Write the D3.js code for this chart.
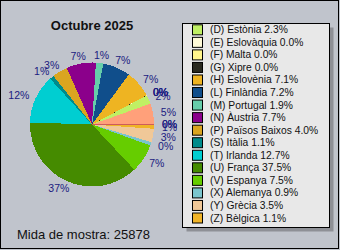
<!DOCTYPE html>
<html>
<head>
<meta charset="utf-8">
<script src="https://cdn.jsdelivr.net/npm/d3@7"></script>
<style>
  html, body { margin: 0; padding: 0; background: #c0c4cc; }
  svg { display: block; font-family: "Liberation Sans", Arial, sans-serif; }
</style>
</head>
<body>
<svg id="chart" width="340" height="250"></svg>
<script>
// Series codes, country names, coin counts and slice colours
const codes = ["A", "B", "C", "D", "E", "F", "G", "H", "L", "M", "N", "P", "S", "T", "U", "V", "X", "Y", "Z"];
const countries = ["Croàcia", "Lituània", "Letònia", "Estònia", "Eslovàquia", "Malta", "Xipre", "Eslovènia",
  "Finlàndia", "Portugal", "Àustria", "Països Baixos", "Itàlia", "Irlanda", "França", "Espanya",
  "Alemanya", "Grècia", "Bèlgica"];
const counts = [8, 5, 1401, 595, 3, 1, 5, 1837, 1863, 492, 1993, 1034, 285, 3287, 9704, 1941, 233, 906, 285];
const colors = ["#cd5c5c", "#ffd700", "#ffa07a", "#c0f064", "#fffbd8", "#fff58c", "#29291f", "#eeb422",
  "#104e8b", "#66cdaa", "#8b008b", "#daa520", "#008b8b", "#00ced1", "#458b00", "#66cd00",
  "#7ac5cd", "#f0c898", "#f0b428"];
const title = "Octubre 2025";
const sampleLabel = "Mida de mostra: ";
// the legend box has room for 16 rows, listed from (D) onward
const legendFirst = 3;

const total = d3.sum(counts);
const data = codes.map((c, i) => ({
  code: c, name: countries[i], count: counts[i], color: colors[i],
  pct: counts[i] / total * 100
}));

const svg = d3.select("#chart");
const W = 340, H = 250;

// background and outer frame
svg.append("rect").attr("width", W).attr("height", H).attr("fill", "#c0c4cc");
svg.append("rect").attr("x", 0.5).attr("y", 0.5).attr("width", 338).attr("height", 248)
  .attr("fill", "none").attr("stroke", "#000");

// title
const cx = 92, cy = 124.5, R = 62, labelR = 70;
svg.append("text").attr("x", cx).attr("y", 30).attr("text-anchor", "middle")
  .attr("font-size", 13).attr("font-weight", "bold").attr("fill", "#111").text(title);

// pie, running counter-clockwise from three o'clock
const pie = d3.pie().sort(null).value(d => d.count)
  .startAngle(Math.PI / 2).endAngle(Math.PI / 2 - 2 * Math.PI);
const arcs = pie(data);
const arc = d3.arc().innerRadius(0).outerRadius(R);

const g = svg.append("g").attr("transform", `translate(${cx},${cy})`);
g.selectAll("path").data(arcs).join("path")
  .attr("d", arc).attr("fill", d => d.data.color)
  .attr("shape-rendering", "crispEdges");

// percentage labels just outside the rim
const labels = g.selectAll("text.pl").data(arcs).join("text")
  .attr("class", "pl")
  .attr("font-size", 10.5).attr("fill", "#1a1a80")
  .attr("dominant-baseline", "central")
  .text(d => Math.floor(d.data.pct) + "%");
labels.each(function (d) {
  const a = (d.startAngle + d.endAngle) / 2;
  const px = labelR * Math.sin(a), py = -labelR * Math.cos(a);
  const w = this.getComputedTextLength();
  d3.select(this).attr("x", px - w * (1 - Math.sin(a)) / 2).attr("y", py);
});

// sample size
svg.append("text").attr("x", 17).attr("y", 238.5).attr("font-size", 13).attr("fill", "#111")
  .text(sampleLabel + total);

// legend box with drop shadow
const lx = 182.5, ly = 23.5, lw = 147, lh = 204;
svg.append("rect").attr("x", lx + 4).attr("y", ly + 4).attr("width", lw).attr("height", lh)
  .attr("fill", "#8e9096");
svg.append("rect").attr("x", lx).attr("y", ly).attr("width", lw).attr("height", lh)
  .attr("fill", "#e8e8e8").attr("stroke", "#000");

const rows = data.slice(legendFirst);
const rowY = d3.scalePoint().domain(rows.map(d => d.code)).range([29.3, 217.5]);
const item = svg.append("g").selectAll("g").data(rows).join("g")
  .attr("transform", d => `translate(0,${rowY(d.code)})`);
item.append("rect").attr("x", 192.5).attr("y", -4.5).attr("width", 10).attr("height", 10)
  .attr("fill", d => d.color).attr("stroke", "#000");
item.append("text").attr("x", 210).attr("y", 4).attr("font-size", 10.3).attr("fill", "#111")
  .text(d => `(${d.code}) ${d.name} ${d.pct.toFixed(1)}%`);
</script>
</body>
</html>
